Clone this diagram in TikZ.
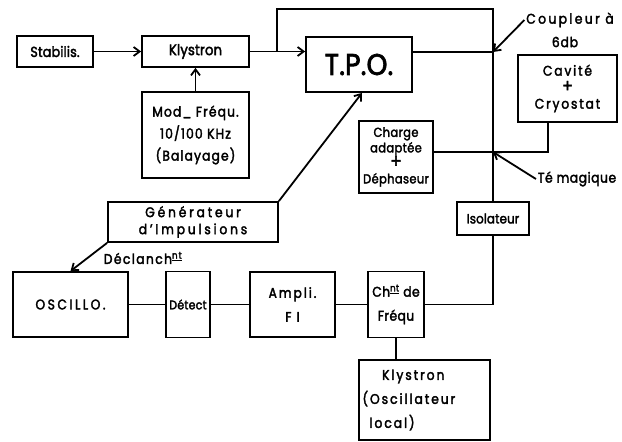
\documentclass[tikz,border=0pt]{standalone}
\usepackage{fontspec}
\setmainfont{Poppins}[FakeBold=2.4, FakeStretch=0.88]
\usetikzlibrary{arrows.meta}
\newcommand{\fs}[3]{\fontsize{#1}{#2}\selectfont\addfontfeatures{LetterSpace=#3}}
\newcommand{\bigplus}[1]{\raisebox{0pt}[6pt][0pt]{\fontsize{#1}{10}\selectfont +}}
\begin{document}
\begin{tikzpicture}[x=1pt,y=-1pt, line width=1.8pt,
  box/.style={draw, line width=1.8pt, inner sep=1pt, align=center},
  lbl/.style={inner sep=1pt},
  arr/.style={-{Straight Barb[length=6pt,width=9pt,line width=1.8pt]}, line width=1.8pt}]
\fill[white] (0,0) rectangle (622,442);
\useasboundingbox (0,0) rectangle (622,442);
% boxes
\node[box, minimum width=76pt, minimum height=31pt, font=\fs{14.5}{18}{1}] (stab) at (55,51.5) {Stabilis.};
\node[box, minimum width=107pt, minimum height=31pt, font=\fs{15}{18}{1}] (kly) at (195.5,51.5) {Klystron};
\node[box, minimum width=107pt, minimum height=86pt, font=\fs{14}{22}{8}] (mod) at (195.5,135) {Mod\_ Fréqu.\\10/100 KHz\\(Balayage)};
\node[box, minimum width=106pt, minimum height=55pt, font=\fs{30}{34}{1}] (tpo) at (359,64.5) {T.P.O.};
\node[box, minimum width=99pt, minimum height=67pt, font=\fs{14}{16.5}{13}] (cav) at (567.5,88.5) {Cavité\\\bigplus{18}\\Cryostat};
\node[box, minimum width=74pt, minimum height=72pt, font=\fs{13}{15.5}{3}] (chg) at (396,157) {Charge\\adaptée\\\bigplus{19}\\Déphaseur};
\node[box, minimum width=170pt, minimum height=40pt, font=\fs{14}{17}{20}] (gen) at (193,222) {Générateur\\d'Impulsions};
\node[box, minimum width=72pt, minimum height=33pt, inner sep=0pt, font=\fs{13.5}{18}{1}] (iso) at (493,218.5) {Isolateur};
\node[box, minimum width=115pt, minimum height=65pt, font=\fs{14}{18}{18}] (osc) at (70.5,304.5) {OSCILLO.};
\node[box, minimum width=44pt, minimum height=66pt, inner sep=0pt, font=\fs{12.5}{18}{2}] (det) at (188,304.5) {Détect};
\node[box, minimum width=85pt, minimum height=65pt, font=\fs{14}{24}{14}] (amp) at (292.5,304.5) {Ampli.\\F I};
\node[box, minimum width=56pt, minimum height=66pt, inner sep=0pt, font=\fs{14}{24}{3}] (chf) at (396,304.5) {Ch\textsuperscript{\underline{nt}} de\\Fréqu};
\node[box, minimum width=131pt, minimum height=80pt, text width=124pt, inner sep=3pt, align=left, font=\fs{14}{24}{14}] (kloc) at (424.5,400) {\hspace*{1.4em}Klystron\\(Oscillateur\\\hspace*{0.5em}local)};
% labels
\node[lbl, font=\fs{14}{18}{17}] (coupl) at (570,20) {Coupleur à};
\node[lbl, font=\fs{14}{18}{6}] (sixdb) at (565,42) {6db};
\node[lbl, font=\fs{14}{18}{4}] (temag) at (577,179) {Té magique};
\node[lbl, font=\fs{14}{18}{10}] (decl) at (143,258) {Déclanch\textsuperscript{\underline{nt}}};
% coordinates
\coordinate (b1) at (277,51.5);
\coordinate (top) at (493,9);
\coordinate (coup) at (493,52);
\coordinate (te) at (493,152);
\coordinate (cb) at (548,122);
% connectors
\draw[arr] (stab) -- (kly);
\draw[arr] (mod) -- (kly);
\draw[arr] (kly.east) -- (kly.east -| tpo.west);
\draw (b1) |- (top) -- (iso.north);
\draw (tpo.east |- coup) -- (coup);
\draw[arr] (coupl.west) -- (coup);
\draw (cav.south -| cb) |- (te) -- (te -| chg.east);
\draw[arr] (temag.west) -- (te);
\draw[arr] (gen.north east) -- ([xshift=3pt]tpo.south);
\draw[arr] (gen.south west) -- (osc.north);
\draw (osc) -- (det);
\draw (det) -- (amp);
\draw (amp) -- (chf);
\draw (chf.east) -| (iso.south);
\draw (chf.south) -- (chf.south |- kloc.north);
\end{tikzpicture}
\end{document}
